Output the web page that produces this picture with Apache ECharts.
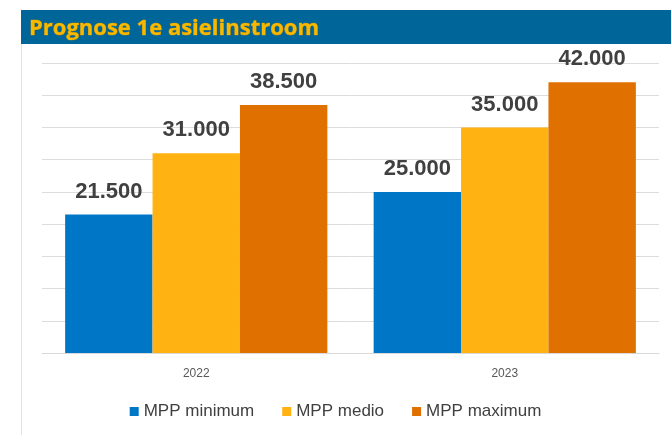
<!DOCTYPE html>
<html>
<head>
<meta charset="utf-8">
<script src="https://cdn.jsdelivr.net/npm/echarts@6/dist/echarts.min.js"></script>
<style>
  html, body { margin: 0; padding: 0; background: #fff; }
  #main { width: 671px; height: 435px; }
</style>
</head>
<body>
<div id="main"></div>
<script>
const titleText = 'Prognose 1e asielinstroom'
const years = ['2022', '2023']
const seriesNames = ['MPP minimum', 'MPP medio', 'MPP maximum']
const minValues = [21500, 25000]
const medioValues = [31000, 35000]
const maxValues = [38500, 42000]
const colors = ['#0076c6', '#ffb212', '#e07000']

// getallen met punt als duizendtal-scheiding
function fmt(v) {
    return String(v).replace(/\B(?=(\d{3})+(?!\d))/g, '.')
}

const chart = echarts.init(document.getElementById('main'))
const labelStyle = {
    show: true,
    position: 'top',
    distance: 12,
    fontFamily: 'Liberation Sans',
    fontWeight: 'bold',
    fontSize: 22,
    color: '#404040',
    formatter: p => fmt(p.value)
}
const valueLists = [minValues, medioValues, maxValues]

const option = {
    animation: false,
    color: colors,
    graphic: [
        {   // paneelrand links
            type: 'line',
            shape: { x1: 21.5, y1: 44, x2: 21.5, y2: 435 },
            style: { stroke: '#e2e2e2', lineWidth: 1 }
        },
        {   // titelbalk
            type: 'rect',
            shape: { x: 21, y: 10, width: 650, height: 34 },
            style: { fill: '#00669a' },
            z: 0
        }
    ],
    title: {
        text: titleText,
        left: 24,
        top: 13,
        textStyle: {
            fontFamily: 'Open Sans',
            fontSize: 22,
            fontWeight: 'bold',
            color: '#f7b800',
            textBorderColor: '#c98a00',
            textBorderWidth: 0.6
        },
        z: 5
    },
    legend: {
        bottom: 10,
        left: 'center',
        itemWidth: 9,
        itemHeight: 9,
        itemGap: 28,
        icon: 'rect',
        textStyle: { fontFamily: 'Liberation Sans', fontSize: 17, color: '#404040' },
        data: seriesNames
    },
    grid: { left: 42, right: 12, top: 63, bottom: 82 },
    xAxis: {
        type: 'category',
        data: years,
        axisLine: { lineStyle: { color: '#d9d9d9', width: 1 } },
        axisTick: { show: false },
        axisLabel: { margin: 15, fontFamily: 'Liberation Sans', fontSize: 12, color: '#595959' }
    },
    yAxis: {
        type: 'value',
        min: 0,
        max: 45000,
        interval: 5000,
        axisLabel: { show: false },
        axisLine: { show: false },
        axisTick: { show: false },
        splitLine: { lineStyle: { color: '#dcdcdc', width: 1 } }
    },
    series: seriesNames.map((name, i) => ({
        name: name,
        type: 'bar',
        data: valueLists[i],
        barGap: '0%',
        barCategoryGap: '15%',
        label: labelStyle
    }))
}
chart.setOption(option)
</script>
</body>
</html>
